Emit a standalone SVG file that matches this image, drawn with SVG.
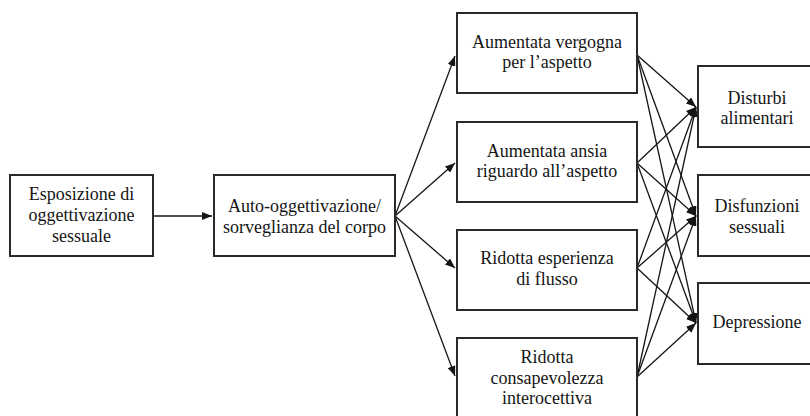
<svg xmlns="http://www.w3.org/2000/svg" width="810" height="416" viewBox="0 0 810 416">
<defs>
<style>
.box{fill:#fff;stroke:#2a2a2a;stroke-width:2}
.t{font-family:"Liberation Serif","DejaVu Serif",serif;font-size:18px;fill:#151515;text-anchor:middle}
.c{stroke:#151515;stroke-width:1.3;fill:none}
</style>
<marker id="ah" viewBox="0 0 10 8" refX="10" refY="4" markerWidth="10" markerHeight="8" orient="auto" markerUnits="userSpaceOnUse"><path d="M0,0 L10,4 L0,8 z" fill="#151515"/></marker>
</defs>
<rect width="810" height="416" fill="#fff"/>
<g id="connectors">
<line class="c" x1="153" y1="216" x2="212" y2="216" marker-end="url(#ah)"/>
<line class="c" x1="395" y1="216" x2="455" y2="56" marker-end="url(#ah)"/>
<line class="c" x1="395" y1="216" x2="455" y2="163" marker-end="url(#ah)"/>
<line class="c" x1="395" y1="216" x2="455" y2="268" marker-end="url(#ah)"/>
<line class="c" x1="395" y1="216" x2="455" y2="376" marker-end="url(#ah)"/>
<g>
<line class="c" x1="637" y1="55" x2="696" y2="107" marker-end="url(#ah)"/>
<line class="c" x1="637" y1="55" x2="696" y2="216" marker-end="url(#ah)"/>
<line class="c" x1="637" y1="55" x2="696" y2="323" marker-end="url(#ah)"/>
<line class="c" x1="637" y1="163" x2="696" y2="107" marker-end="url(#ah)"/>
<line class="c" x1="637" y1="163" x2="696" y2="216" marker-end="url(#ah)"/>
<line class="c" x1="637" y1="163" x2="696" y2="323" marker-end="url(#ah)"/>
<line class="c" x1="637" y1="268" x2="696" y2="107" marker-end="url(#ah)"/>
<line class="c" x1="637" y1="268" x2="696" y2="216" marker-end="url(#ah)"/>
<line class="c" x1="637" y1="268" x2="696" y2="323" marker-end="url(#ah)"/>
<line class="c" x1="637" y1="377" x2="696" y2="107" marker-end="url(#ah)"/>
<line class="c" x1="637" y1="377" x2="696" y2="216" marker-end="url(#ah)"/>
<line class="c" x1="637" y1="377" x2="696" y2="323" marker-end="url(#ah)"/>
</g>
</g>
<g id="n1"><rect class="box" x="10" y="175" width="143" height="81"/>
<text class="t" x="81.5" y="200">Esposizione di</text><text class="t" x="81.5" y="221">oggettivazione</text><text class="t" x="81.5" y="242">sessuale</text></g>
<g id="n2"><rect class="box" x="214" y="175" width="181" height="81"/>
<text class="t" x="304.5" y="212">Auto-oggettivazione/</text><text class="t" x="304.5" y="233">sorveglianza del corpo</text></g>
<g id="n3"><rect class="box" x="457" y="13" width="180" height="80"/>
<text class="t" x="547" y="48">Aumentata vergogna</text><text class="t" x="547" y="68">per l’aspetto</text></g>
<g id="n4"><rect class="box" x="457" y="122" width="180" height="80"/>
<text class="t" x="547" y="157">Aumentata ansia</text><text class="t" x="547" y="177">riguardo all’aspetto</text></g>
<g id="n5"><rect class="box" x="457" y="230" width="180" height="80"/>
<text class="t" x="547" y="264">Ridotta esperienza</text><text class="t" x="547" y="285">di flusso</text></g>
<g id="n6"><rect class="box" x="457" y="338" width="180" height="84"/>
<text class="t" x="547" y="363">Ridotta</text><text class="t" x="547" y="384">consapevolezza</text><text class="t" x="547" y="404">interocettiva</text></g>
<g id="n7"><rect class="box" x="698" y="66" width="116" height="81"/>
<text class="t" x="757" y="104">Disturbi</text><text class="t" x="757" y="124">alimentari</text></g>
<g id="n8"><rect class="box" x="698" y="175" width="116" height="81"/>
<text class="t" x="757" y="212">Disfunzioni</text><text class="t" x="757" y="233">sessuali</text></g>
<g id="n9"><rect class="box" x="698" y="283" width="116" height="81"/>
<text class="t" x="757" y="328">Depressione</text></g>
</svg>
